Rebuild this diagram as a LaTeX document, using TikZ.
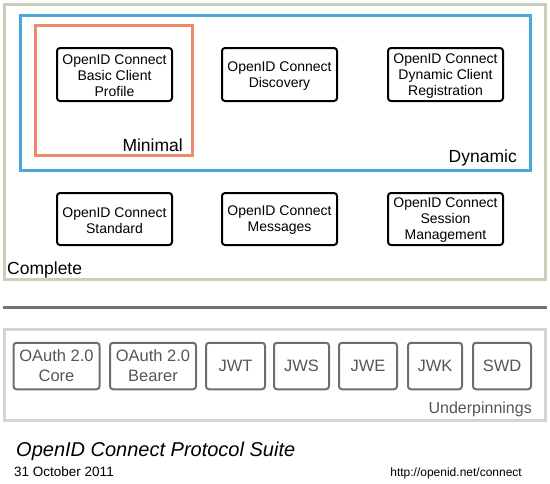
\documentclass[tikz,border=0pt]{standalone}
\usepackage{fontspec}
\setmainfont{Liberation Sans}
\definecolor{cgreen}{HTML}{C8D0BA}
\definecolor{cblue}{HTML}{4AA8D8}
\definecolor{corange}{HTML}{EC8A6C}
\definecolor{csep}{HTML}{737373}
\definecolor{cunder}{HTML}{D4D4D4}
\definecolor{cubox}{HTML}{6E6E6E}
\definecolor{cutext}{HTML}{555555}
\begin{document}
\begin{tikzpicture}[x=1pt,y=-1pt,
  spec/.style={draw=black,line width=2pt,rounded corners=3pt,
    minimum width=115pt,minimum height=53pt,inner sep=0pt},
  spectext/.style={align=center,font=\fontsize{14}{16}\selectfont,inner sep=0pt,yshift=-1.5pt},
  under/.style={draw=cubox,line width=2pt,rounded corners=3pt,align=center,text=cutext,
    font=\fontsize{16.5}{20}\selectfont,minimum height=46.5pt,inner sep=0pt},
  grp/.style={line width=3pt},
  grplabel/.style={font=\fontsize{17.5}{20}\selectfont,inner sep=0pt}]
\useasboundingbox (0,0) rectangle (550,483);
% group frames
\draw[grp,draw=cgreen] (4.5,4.5) rectangle (545,279);
\draw[grp,draw=cblue] (20,15.5) rectangle (530.5,170);
\draw[grp,draw=corange] (35.5,25.5) rectangle (192,155.5);
% group labels
\node[grplabel,anchor=base east] (lmin) at (183,151) {Minimal};
\node[grplabel,anchor=base east] (ldyn) at (517,162) {Dynamic};
\node[grplabel,anchor=base west] (lcom) at (7,274) {Complete};
% specs
\node[spec] (basic) at (114.5,74.5) {};
\node[spectext] (basict) at (basic.center) {OpenID Connect\\Basic Client\\Profile};
\node[spec] (disc) at (279.5,74.5) {};
\node[spectext] (disct) at (disc.center) {OpenID Connect\\Discovery};
\node[spec] (reg) at (445.5,74.5) {};
\node[spectext] (regt) at (reg.center) {OpenID Connect\\Dynamic Client\\Registration};
\node[spec,minimum height=52pt] (std) at (114.5,219) {};
\node[spectext] (stdt) at (std.center) {OpenID Connect\\Standard};
\node[spec,minimum height=52pt] (msg) at (279.5,219) {};
\node[spectext] (msgt) at (msg.center) {OpenID Connect\\Messages};
\node[spec,minimum height=52pt] (sess) at (445.5,219) {};
\node[spectext] (sesst) at (sess.center) {OpenID Connect\\Session\\Management};
% separator
\draw[line width=3pt,draw=csep] (3,307.5) -- (547,307.5);
% underpinnings
\draw[grp,draw=cunder] (4.5,329) rectangle (545,420);
\node[under,minimum width=86pt] (core) at (56.5,366) {OAuth 2.0\\Core};
\node[under,minimum width=86pt] (bearer) at (153,366) {OAuth 2.0\\Bearer};
\node[under,minimum width=59pt] (jwt) at (235.5,366) {JWT};
\node[under,minimum width=55pt] (jws) at (301.5,366) {JWS};
\node[under,minimum width=58pt] (jwe) at (368,366) {JWE};
\node[under,minimum width=54pt] (jwk) at (435,366) {JWK};
\node[under,minimum width=58pt] (swd) at (502,366) {SWD};
\node[anchor=base east,inner sep=0pt,text=cutext,font=\fontsize{16}{18}\selectfont] (lund) at (532,413) {Underpinnings};
% footer
\node[anchor=base west,inner sep=0pt,font=\fontsize{20}{22}\selectfont\itshape] (title) at (16,456) {OpenID Connect Protocol Suite};
\node[anchor=base west,inner sep=0pt,font=\fontsize{13.5}{15}\selectfont] (date) at (14,476) {31 October 2011};
\node[anchor=base east,inner sep=0pt,font=\fontsize{12}{14}\selectfont] (url) at (522,476) {http://openid.net/connect};
\end{tikzpicture}
\end{document}
